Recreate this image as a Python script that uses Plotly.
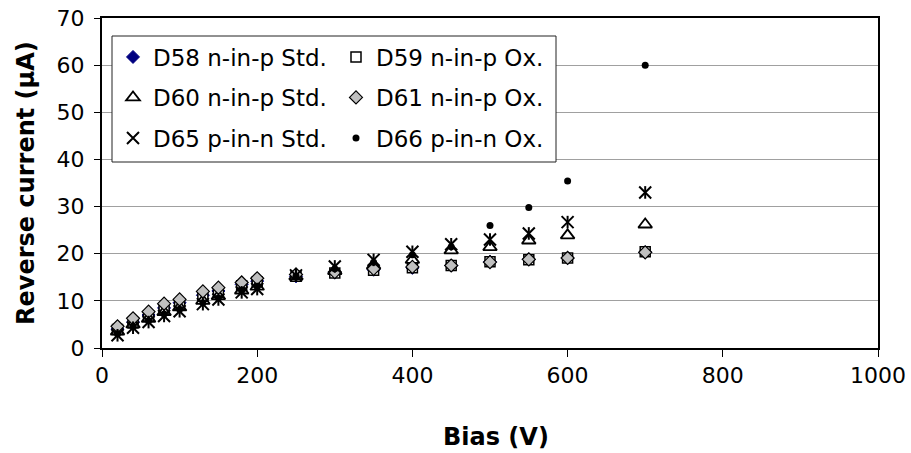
import plotly.graph_objects as go

bias = [20, 40, 60, 80, 100, 130, 150, 180, 200, 250, 300, 350, 400, 450, 500, 550, 600, 700]

d58 = [4.0, 5.5, 7.0, 8.5, 9.6, 11.2, 12.1, 13.5, 14.2, 15.2, 16.0, 16.6, 17.0, 17.5, 18.3, 18.8, 19.1, 20.3]
d59 = [3.9, 5.3, 6.8, 8.2, 9.3, 11.0, 11.8, 13.2, 14.0, 15.2, 15.9, 16.5, 17.0, 17.5, 18.3, 18.7, 19.1, 20.4]
d60 = [3.5, 5.0, 6.2, 7.6, 8.6, 10.0, 11.0, 12.2, 13.0, 15.2, 16.3, 17.5, 18.7, 20.7, 21.4, 22.8, 23.9, 26.2]
d61 = [4.6, 6.3, 7.7, 9.4, 10.3, 12.0, 12.8, 13.9, 14.8, 15.6, 16.1, 16.8, 17.2, 17.5, 18.2, 18.8, 19.1, 20.3]
d65 = [2.7, 4.3, 5.5, 6.8, 7.8, 9.3, 10.3, 11.8, 12.5, 15.4, 17.3, 18.7, 20.4, 22.0, 23.0, 24.3, 26.7, 33.0]
d66 = [3.0, 4.6, 5.8, 7.2, 8.2, 9.6, 10.6, 12.2, 13.0, 15.2, 16.8, 18.2, 19.8, 21.5, 26.0, 29.8, 35.4, 60.0]

names = ["D58 n-in-p Std.", "D59 n-in-p Ox.", "D60 n-in-p Std.",
         "D61 n-in-p Ox.", "D65 p-in-n Std.", "D66 p-in-n Ox."]

FONT = "DejaVu Sans"

fig = go.Figure()

fig.add_trace(go.Scatter(x=bias, y=d58, mode="markers", name=names[0],
                         legend="legend", legendgroup="g58",
                         marker=dict(symbol="diamond", size=10, color="#000080",
                                     line=dict(color="#000080", width=1))))
fig.add_trace(go.Scatter(x=bias, y=d59, mode="markers", name=names[1],
                         legend="legend2", legendgroup="g59",
                         marker=dict(symbol="square", size=10, color="white",
                                     line=dict(color="black", width=1.5))))
fig.add_trace(go.Scatter(x=bias, y=d60, mode="markers", name=names[2],
                         legend="legend", legendgroup="g60",
                         marker=dict(symbol="triangle-up-open", size=12, color="black",
                                     line=dict(color="black", width=1.8))))
fig.add_trace(go.Scatter(x=bias, y=d61, mode="markers", name=names[3],
                         legend="legend2", legendgroup="g61",
                         marker=dict(symbol="diamond", size=10, color="#c0c0c0",
                                     line=dict(color="black", width=1.2))))
fig.add_trace(go.Scatter(x=bias, y=d65, mode="markers", name=names[4],
                         legend="legend", legendgroup="g65",
                         marker=dict(symbol="x-thin-open", size=12, color="black",
                                     line=dict(color="black", width=2))))
fig.add_trace(go.Scatter(x=bias, y=d65, mode="markers", name=names[4],
                         legend="legend", legendgroup="g65", showlegend=False,
                         marker=dict(symbol="line-ns-open", size=9, color="black",
                                     line=dict(color="black", width=2))))
fig.add_trace(go.Scatter(x=bias, y=d66, mode="markers", name=names[5],
                         legend="legend2", legendgroup="g66",
                         marker=dict(symbol="circle", size=7, color="black",
                                     line=dict(color="black", width=0))))

W, H = 911, 453
ml, mr, mt, mb = 102, 33, 18, 105
pw, ph = W - ml - mr, H - mt - mb

def px_x(p):
    return (p - ml) / pw

def px_y(p):
    return 1 - (p - mt) / ph

legend_common = dict(font=dict(family=FONT, size=23, color="black"),
                     bgcolor="rgba(0,0,0,0)", borderwidth=0,
                     traceorder="grouped", tracegroupgap=7.6,
                     xanchor="left", yanchor="top", itemsizing="trace")

fig.update_layout(
    template="none",
    width=W, height=H,
    margin=dict(l=ml, r=mr, t=mt, b=mb, autoexpand=False),
    paper_bgcolor="white", plot_bgcolor="white",
    font=dict(family=FONT, size=22, color="black"),
    legend=dict(x=px_x(113), y=px_y(35.5), **legend_common),
    legend2=dict(x=px_x(336), y=px_y(35.5), **legend_common),
    shapes=[dict(type="rect", xref="paper", yref="paper",
                 x0=px_x(112), x1=px_x(556), y0=px_y(162), y1=px_y(36),
                 fillcolor="white", line=dict(color="#222222", width=1),
                 layer="above")],
    annotations=[
        dict(text="<b>Reverse current (μA)</b>", textangle=-90,
             xref="paper", yref="paper", x=px_x(26), y=0.5,
             xanchor="center", yanchor="middle", showarrow=False,
             font=dict(family=FONT, size=24, color="black")),
        dict(text="<b>Bias (V)</b>",
             xref="paper", yref="paper", x=px_x(496), y=px_y(437),
             xanchor="center", yanchor="middle", showarrow=False,
             font=dict(family=FONT, size=24, color="black")),
    ],
    xaxis=dict(range=[0, 1000], dtick=200, tick0=0, showgrid=False, zeroline=False,
               automargin=False,
               showline=True, linecolor="black", linewidth=2, mirror=True,
               ticks="outside", ticklen=7, tickcolor="black", tickwidth=1,
               tickfont=dict(family=FONT, size=22, color="black")),
    yaxis=dict(range=[0, 70], dtick=10, tick0=0, showgrid=True, gridcolor="#a0a0a0",
               gridwidth=1, zeroline=False, automargin=False,
               showline=True, linecolor="black", linewidth=2, mirror=True,
               ticks="outside", ticklen=6, tickcolor="black", tickwidth=1,
               ticklabelstandoff=5,
               tickfont=dict(family=FONT, size=22, color="black")),
)

fig.write_html("out.html")
